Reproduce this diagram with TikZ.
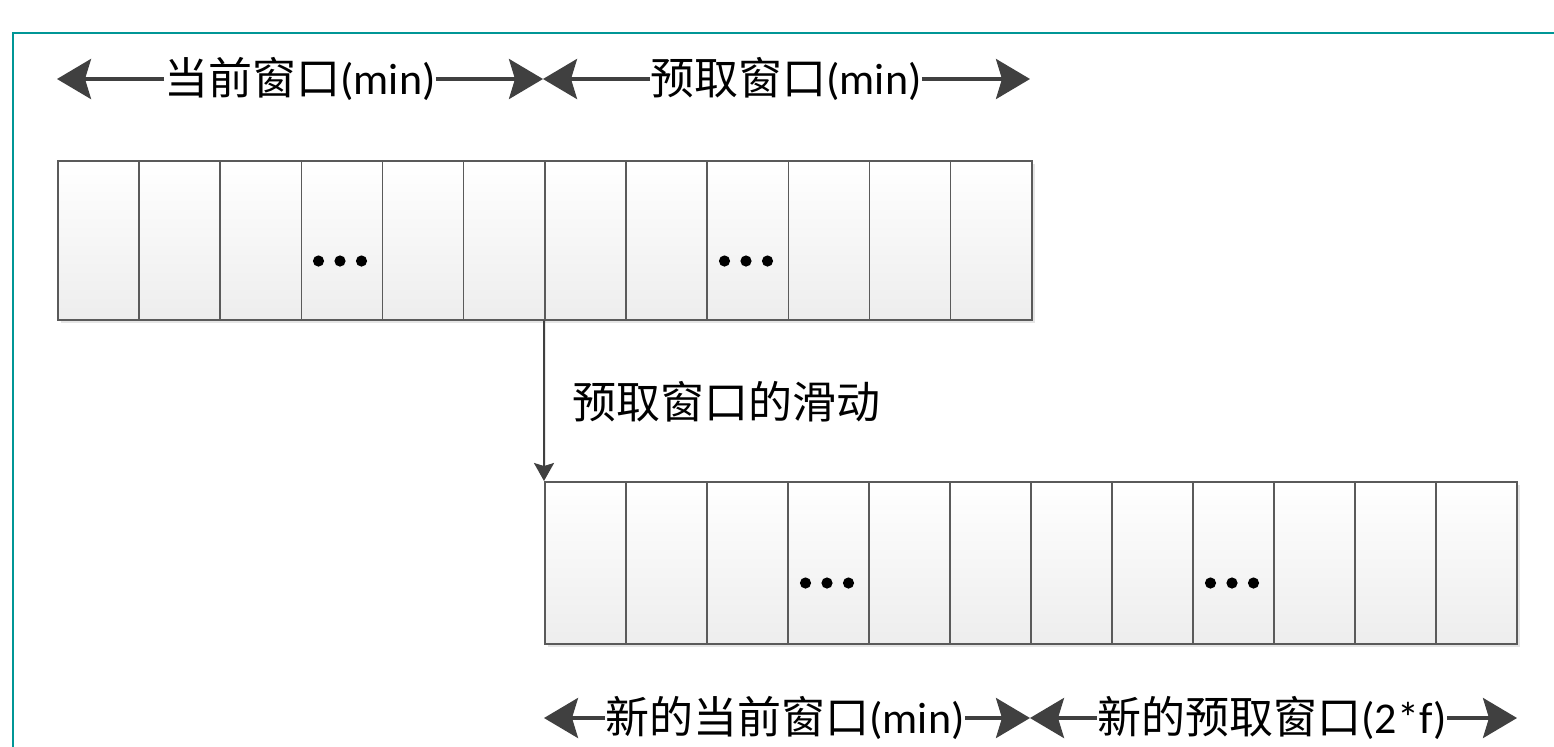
\documentclass[tikz,border=0pt]{standalone}
\usepackage{fontspec}
\setmainfont{Carlito}
\newfontfamily\cjk{Noto Sans CJK SC}
\usetikzlibrary{arrows.meta}
\definecolor{frameteal}{RGB}{0,150,150}
\definecolor{arrowgray}{RGB}{64,64,64}
\definecolor{cellline}{RGB}{90,90,90}
\begin{document}
\begin{tikzpicture}[x=0.5pt,y=-0.5pt,
  cellbox/.style={shape=rectangle, draw=cellline, line width=0.75pt, top color=white, bottom color=black!7, inner sep=0pt, anchor=north west},
  topcell/.style={cellbox, minimum width=40.58pt, minimum height=79.5pt},
  botcell/.style={cellbox, minimum width=40.5pt, minimum height=81pt},
  shadowbox/.style={fill=black!10},
  dimarrow/.style={draw=arrowgray, line width=1.75pt, -{Stealth[length=17pt, width=20pt, inset=3pt]}},
  slidearrow/.style={draw=arrowgray, line width=1pt, -{Stealth[length=9pt, width=10pt, inset=1.5pt]}},
  labeltext/.style={inner xsep=0pt, inner ysep=2pt, font=\fontsize{22pt}{26pt}\selectfont, text=black},
  dotmark/.style={fill=black}
]
\useasboundingbox (0,0) rectangle (1554,746);
\clip (0,0) rectangle (1554,746);
\fill[white] (0,0) rectangle (1554,746);
% frame
\draw[frameteal, line width=1pt] (13,800) -- (13,33) -- (1600,33);

% shadows
\foreach \i in {0,...,11} {
  \fill[shadowbox] ({57+\i*81.17+4},164) rectangle ({57+(\i+1)*81.17+4},323);
  \fill[shadowbox] ({544+\i*81+4},485) rectangle ({544+(\i+1)*81+4},647);
}
% top row cells
\foreach \i [evaluate=\i as \n using int(\i+1)] in {0,...,11} {
  \node[topcell] (t\n) at ({57+\i*81.17},160) {};
}
% bottom row cells
\foreach \i [evaluate=\i as \n using int(\i+1)] in {0,...,11} {
  \node[botcell] (b\n) at ({544+\i*81},481) {};
}
% ellipsis dots
\foreach \cx/\cy in {340/261, 746/261, 827/583, 1232/583} {
  \foreach \d in {-21.5,0,21.5} {
    \fill[dotmark] ({\cx+\d},\cy) circle (2.8pt);
  }
}

% top dimension labels
\coordinate (tipA) at (57,79);
\coordinate (tipB) at (543,79);
\coordinate (tipC) at (1030,79);
\node[labeltext] (labA) at (300,79) {{\cjk 当前窗口}(min)};
\node[labeltext] (labB) at (786,79) {{\cjk 预取窗口}(min)};
\draw[dimarrow] (labA.west) -- (tipA);
\draw[dimarrow] (labA.east) -- (tipB);
\draw[dimarrow] (labB.west) -- (tipB);
\draw[dimarrow] (labB.east) -- (tipC);

% sliding arrow
\draw[slidearrow] (t7.south west) -- (b1.north west);
\node[labeltext, anchor=west] (slide) at (572,402) {\cjk 预取窗口的滑动};

% bottom dimension labels
\coordinate (tipD) at (544,718);
\coordinate (tipE) at (1030,718);
\coordinate (tipF) at (1517,718);
\node[labeltext] (labC) at (785,718) {{\cjk 新的当前窗口}(min)};
\node[labeltext] (labD) at (1272,718) {{\cjk 新的预取窗口}(2*f)};
\draw[dimarrow] (labC.west) -- (tipD);
\draw[dimarrow] (labC.east) -- (tipE);
\draw[dimarrow] (labD.west) -- (tipE);
\draw[dimarrow] (labD.east) -- (tipF);
\end{tikzpicture}
\end{document}
